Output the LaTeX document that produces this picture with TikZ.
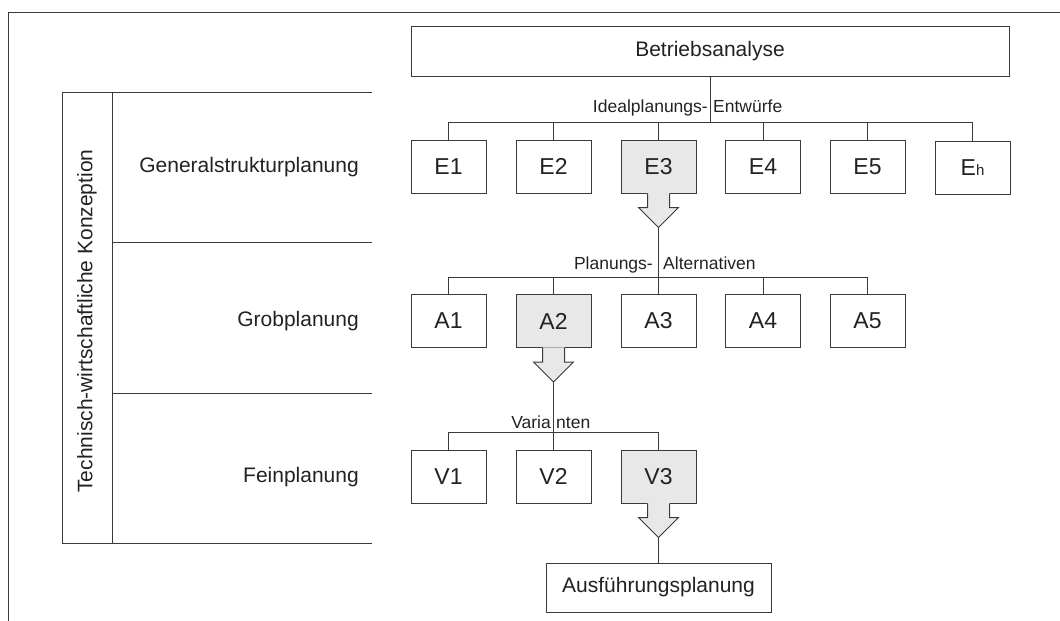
\documentclass[tikz,border=0pt]{standalone}
\usepackage{fontspec}
\setmainfont{Liberation Sans}
\usetikzlibrary{calc}
\definecolor{ink}{HTML}{3A3A3A}
\definecolor{txt}{HTML}{222222}
\definecolor{selfill}{HTML}{E8E8E8}
\tikzset{
  line/.style={draw=ink, line width=1pt},
  item/.style={line, fill=white, minimum width=75pt, minimum height=53pt,
    inner sep=0pt, font=\fontsize{23}{23}\selectfont, text=txt},
  chosen/.style={item, fill=selfill},
  widebox/.style={line, fill=white, inner sep=0pt,
    font=\fontsize{21}{21}\selectfont, text=txt},
  rowlabel/.style={font=\fontsize{21}{21}\selectfont, text=txt,
    anchor=east, inner sep=0pt},
  buslabel/.style={font=\fontsize{17.5}{17.5}\selectfont, text=txt, inner sep=0pt},
}
% downward block arrow hanging under a selected box; tip saved as <name>tip
\newcommand\pickarrow[1]{%
  \fill[selfill] ($(#1.south)+(-11,-0.7)$) -- ($(#1.south)+(-11,14)$)
    -- ($(#1.south)+(-20,14)$) -- ($(#1.south)+(0,34)$)
    -- ($(#1.south)+(20,14)$) -- ($(#1.south)+(11,14)$)
    -- ($(#1.south)+(11,-0.7)$) -- cycle;
  \draw[line, line join=miter] ($(#1.south)+(-11,0)$) -- ($(#1.south)+(-11,14)$)
    -- ($(#1.south)+(-20,14)$) -- ($(#1.south)+(0,34)$)
    -- ($(#1.south)+(20,14)$) -- ($(#1.south)+(11,14)$)
    -- ($(#1.south)+(11,0)$);
  \coordinate (#1tip) at ($(#1.south)+(0,34)$);%
}

\begin{document}
\begin{tikzpicture}[x=1pt,y=-1pt]
\useasboundingbox (0,0) rectangle (1060,621);

% outer frame
\draw[line] (8,621) -- (8,12) -- (1060,12);

% phase table on the left
\draw[line] (62,92) -- (372,92);
\draw[line] (112,242) -- (372,242);
\draw[line] (112,393) -- (372,393);
\draw[line] (62,543) -- (372,543);
\draw[line] (62,92) -- (62,543);
\draw[line] (112,92) -- (112,543);

\node[rotate=90, font=\fontsize{21}{21}\selectfont, text=txt, inner sep=0pt]
  (concept) at (87,321) {Technisch-wirtschaftliche Konzeption};
\node[rowlabel] (gsp)  at (359,167) {Generalstrukturplanung};
\node[rowlabel] (grob) at (359,321) {Grobplanung};
\node[rowlabel] (fein) at (359,477) {Feinplanung};

% top analysis box
\node[widebox, minimum width=598pt, minimum height=50pt] (ba) at (710,51) {Betriebsanalyse};

% ideal planning drafts
\node[item]   (E1) at (448.5,166.5) {E1};
\node[item]   (E2) at (553.5,166.5) {E2};
\node[chosen] (E3) at (658.5,166.5) {E3};
\node[item]   (E4) at (763,166.5) {E4};
\node[item]   (E5) at (867.5,166.5) {E5};
\node[item]   (E6) at (972.5,167.5) {E{\fontsize{15}{15}\selectfont h}};

\coordinate (busE) at (0,122);
\draw[line] (ba.south) -- (ba.south |- busE);
\draw[line] (E1.north |- busE) -- (E6.north |- busE);
\foreach \n in {E1,E2,E3,E4,E5,E6}
  \draw[line] (\n.north) -- (\n.north |- busE);
\node[buslabel, anchor=base east] (ideal) at (708,112) {Idealplanungs-};
\node[buslabel, anchor=base west] (entw)  at (713,112) {Entwürfe};
\pickarrow{E3}

% planning alternatives
\node[item]   (A1) at (448.5,321) {A1};
\node[chosen] (A2) at (553.5,321) {A2};
\node[item]   (A3) at (658.5,321) {A3};
\node[item]   (A4) at (763,321) {A4};
\node[item]   (A5) at (867.5,321) {A5};

\coordinate (busA) at (0,277);
\draw[line] (E3tip) -- (A3.north);
\draw[line] (A1.north |- busA) -- (A5.north |- busA);
\foreach \n in {A1,A2,A4,A5}
  \draw[line] (\n.north) -- (\n.north |- busA);
\node[buslabel, anchor=base east] (plan) at (653,269) {Planungs-};
\node[buslabel, anchor=base west] (alt)  at (663,269) {Alternativen};
\pickarrow{A2}

% variants
\node[item]   (V1) at (448.5,476.5) {V1};
\node[item]   (V2) at (553.5,476.5) {V2};
\node[chosen] (V3) at (658.5,476.5) {V3};

\coordinate (busV) at (0,432);
\draw[line] (A2tip) -- (V2.north);
\draw[line] (V1.north |- busV) -- (V3.north |- busV);
\foreach \n in {V1,V3}
  \draw[line] (\n.north) -- (\n.north |- busV);
\node[buslabel, anchor=base east] (var1) at (551,428) {Varia};
\node[buslabel, anchor=base west] (var2) at (556,428) {nten};
\pickarrow{V3}

% detailed execution planning
\node[widebox, minimum width=225pt, minimum height=49pt] (aus) at (658.5,587.5) {Ausführungsplanung};
\draw[line] (V3tip) -- (aus.north);
\end{tikzpicture}
\end{document}
